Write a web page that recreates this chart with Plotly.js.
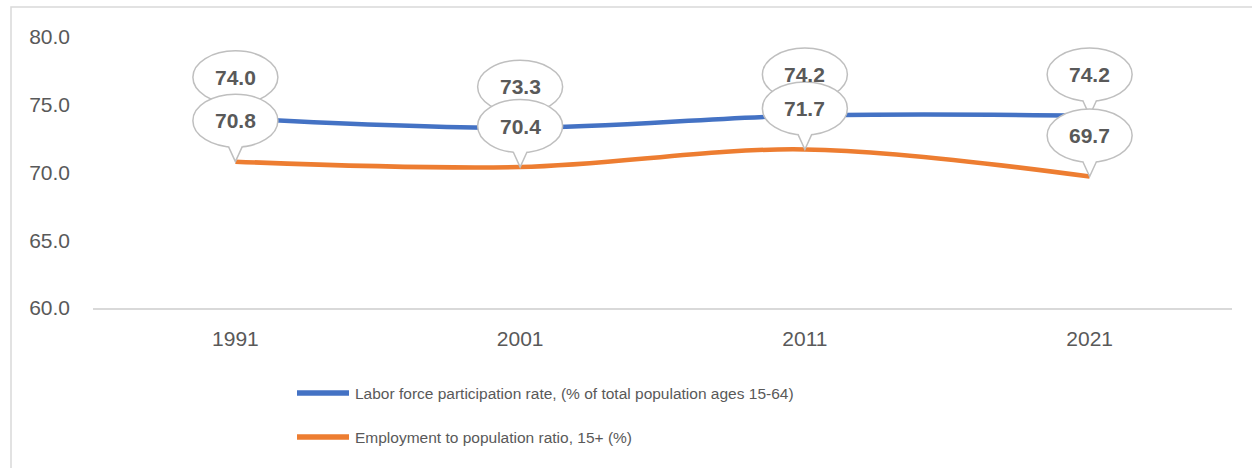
<!DOCTYPE html>
<html>
<head>
<meta charset="utf-8">
<script src="https://cdn.plot.ly/plotly-3.0.1.min.js"></script>
<style>html,body{margin:0;padding:0;background:#fff;}#chart{width:1252px;height:468px;}</style>
</head>
<body>
<div id="chart"></div>
<script>
const years = ['1991', '2001', '2011', '2021'];
const laborForce = [74.0, 73.3, 74.2, 74.2];
const employment = [70.8, 70.4, 71.7, 69.7];
const seriesNames = [
  'Labor force participation rate, (% of total population ages 15-64)',
  'Employment to population ratio, 15+ (%)'
];
const seriesColors = ['#4472C4', '#ED7D31'];
const seriesValues = [laborForce, employment];

const xIdx = years.map((_, i) => i);
const textColor = '#595959';
const tickFont = {family: 'Liberation Sans, Arial, sans-serif', size: 21, color: textColor};

const traces = seriesValues.map((vals, s) => ({
  type: 'scatter', mode: 'lines', x: xIdx, y: vals, name: seriesNames[s],
  line: {color: seriesColors[s], width: 4.5, shape: 'spline'},
  hoverinfo: 'skip', showlegend: false
}));

// plot area in pixels: x 93..1232, y 37..308
const L = 93, R = 1232, T = 37, B = 308;
const px = p => (p - L) / (R - L);
const py = p => (B - p) / (B - T);

const shapes = [];
const annotations = [];
// outer chart border
shapes.push({type: 'rect', xref: 'paper', yref: 'paper', x0: px(11), x1: px(1262), y0: py(478), y1: py(7),
  line: {color: '#d9d9d9', width: 1.5}, fillcolor: 'rgba(0,0,0,0)', layer: 'below'});

// callout bubbles
const bub = {hw: 42.5, hh: 26.5, off: 41};
seriesValues.forEach((vals, s) => {
  vals.forEach((v, i) => {
    const base = {xref: 'x', yref: 'y', xsizemode: 'pixel', ysizemode: 'pixel', xanchor: xIdx[i], yanchor: v, layer: 'above'};
    shapes.push(Object.assign({}, base, {
      type: 'circle', x0: -bub.hw, x1: bub.hw, y0: bub.off - bub.hh, y1: bub.off + bub.hh,
      fillcolor: '#ffffff', line: {color: '#bfbfbf', width: 1.5}
    }));
    shapes.push(Object.assign({}, base, {
      type: 'path', path: 'M -7 15.3 L 0 0 L 7 15.3 L 7 21 L -7 21 Z',
      fillcolor: '#ffffff', line: {width: 0}
    }));
    shapes.push(Object.assign({}, base, {
      type: 'path', path: 'M -7 15.3 L 0 0 L 7 15.3',
      fillcolor: 'rgba(0,0,0,0)', line: {color: '#bfbfbf', width: 1.5}
    }));
    annotations.push({xref: 'x', yref: 'y', x: xIdx[i], y: v, yshift: bub.off, showarrow: false,
      xanchor: 'center', yanchor: 'middle', text: '<b>' + v.toFixed(1) + '</b>',
      font: {family: 'Liberation Sans, Arial, sans-serif', size: 21, color: textColor}});
  });
});

// manual legend
const legendY = [393, 437];
seriesNames.forEach((name, s) => {
  shapes.push({type: 'line', xref: 'paper', yref: 'paper', x0: px(297), x1: px(349), y0: py(legendY[s]), y1: py(legendY[s]),
    line: {color: seriesColors[s], width: 5.5}, layer: 'above'});
  annotations.push({xref: 'paper', yref: 'paper', x: px(353), y: py(legendY[s]), xanchor: 'left', yanchor: 'middle',
    text: name, showarrow: false,
    font: {family: 'Liberation Sans, Arial, sans-serif', size: 15.5, color: textColor}});
});

const layout = {
  width: 1252, height: 468,
  margin: {l: L, r: 1252 - R, t: T, b: 468 - B},
  paper_bgcolor: '#ffffff', plot_bgcolor: '#ffffff',
  showlegend: false,
  xaxis: {range: [-0.5, 3.5], tickmode: 'array', tickvals: xIdx, ticktext: years,
    showgrid: false, zeroline: false, showline: true, linecolor: '#d9d9d9', linewidth: 2,
    ticks: '', tickfont: tickFont, ticklabelstandoff: 11, fixedrange: true},
  yaxis: {range: [60, 80], tickmode: 'linear', tick0: 60, dtick: 5, tickformat: '.1f',
    showgrid: false, zeroline: false, showline: false, ticks: '', tickfont: tickFont,
    ticklabelstandoff: 22, fixedrange: true},
  shapes: shapes,
  annotations: annotations
};

Plotly.newPlot('chart', traces, layout, {displayModeBar: false, staticPlot: true});
</script>
</body>
</html>
